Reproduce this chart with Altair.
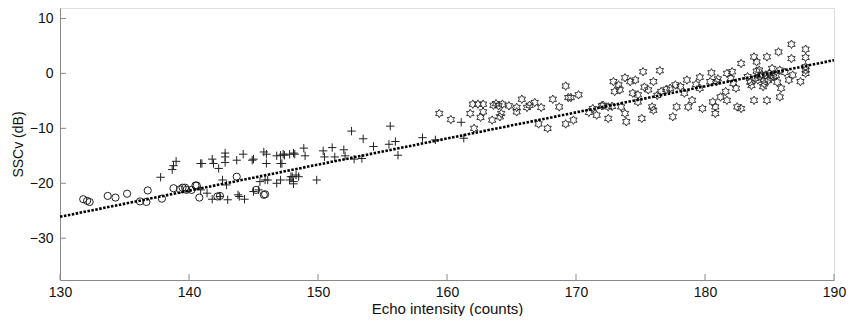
import altair as alt
import pandas as pd

# Circles (low echo intensity)
circ_x = [131.8, 132.1, 132.3, 133.7, 134.3, 135.2, 136.2, 136.8, 136.7, 137.9, 138.8, 139.3,
          139.5, 139.7, 139.8, 140.2, 140.5, 140.6, 140.8, 142.4, 142.2, 143.7, 145.2, 145.8, 145.9]
circ_y = [-22.9, -23.2, -23.4, -22.3, -22.6, -21.9, -23.3, -21.3, -23.4, -22.8, -20.9, -21.1,
          -20.8, -20.8, -21.2, -21.2, -20.4, -20.4, -22.6, -22.3, -22.4, -18.8, -21.2, -22.1, -22.0]

# Plus markers (middle range)
plus_x = [137.8, 138.7, 138.8, 139.0, 140.9, 141.0, 141.8, 141.9, 142.3, 142.8, 142.8, 142.8,
          143.7, 144.2, 144.9, 145.0, 145.8, 146.0, 146.0, 146.8, 147.1, 147.3, 148.1, 147.1,
          147.2, 148.0, 148.1, 142.6, 142.9, 143.0, 142.4, 141.8, 141.4, 140.9, 143.8, 143.9,
          144.3, 145.0, 145.4, 145.5, 145.9, 146.1, 146.8, 147.1, 147.9, 148.3,
          147.4, 147.8, 148.2, 148.9, 149.0, 147.8, 148.1, 148.5, 149.9, 150.4, 150.5, 151.1,
          151.3, 152.0, 152.1, 152.6, 152.8, 153.5, 153.4, 154.3, 155.5, 155.6, 156.0, 156.2,
          158.1, 159.1, 161.1, 161.3]
plus_y = [-18.9, -17.5, -16.8, -16.0, -16.4, -16.4, -15.6, -16.4, -17.3, -14.5, -15.2, -16.2,
          -15.8, -14.7, -15.8, -15.6, -14.3, -14.7, -16.4, -15.0, -14.9, -14.7, -14.5, -16.4,
          -16.4, -18.8, -19.7, -19.4, -20.3, -23.0, -22.4, -22.9, -21.8, -21.2, -22.1, -22.4,
          -22.9, -21.5, -21.2, -19.7, -19.4, -19.4, -20.0, -19.4, -18.8, -18.5,
          -14.9, -14.7, -14.7, -13.6, -15.0, -19.4, -20.1, -18.8, -19.4, -14.1, -15.2, -13.5,
          -15.2, -13.9, -15.0, -10.5, -15.6, -11.9, -15.5, -13.3, -12.9, -9.6, -12.4, -14.9,
          -11.7, -12.1, -8.9, -11.8]

# Six-pointed stars (high echo intensity)
star_x = [159.4, 160.3, 161.8, 162.1, 162.0, 162.4, 162.8, 162.6, 162.8, 163.5, 163.6, 163.8,
          164.0, 164.1, 164.2, 164.3, 164.8, 165.4, 165.4, 165.8, 166.2, 166.4, 166.8, 167.3,
          167.1, 167.8, 168.2, 168.7, 169.2, 169.2, 169.4, 169.6, 169.8, 170.2,
          171.0, 171.6, 172.0, 172.1, 172.5, 172.5, 172.9, 173.0, 173.3, 173.4, 173.5, 173.8,
          173.8, 173.9, 174.2, 174.6, 174.8, 174.8, 175.1, 175.2, 175.3, 175.6, 175.9, 176.0,
          176.0, 176.5, 176.6, 177.3, 177.5, 177.7, 177.8, 178.4, 178.6, 178.7, 179.0, 179.6,
          179.6, 179.8, 180.4, 180.5, 180.6, 180.8, 180.8, 180.9, 181.2, 181.6, 181.7, 181.7,
          182.0, 182.1, 182.2, 182.4, 182.5, 182.8, 182.8, 183.3, 183.8, 183.8, 184.0, 184.1,
          184.2, 184.3, 184.5, 184.7, 184.8, 184.8, 185.0, 185.3, 185.7, 185.8, 185.8, 185.9,
          186.5, 186.7, 186.7, 186.8, 187.4, 187.8, 187.8, 187.8,
          171.3, 172.8, 174.4, 176.3, 177.0, 178.1, 179.3, 181.0, 183.5, 183.9, 184.4, 184.6,
          184.9, 185.1, 185.5, 183.6, 184.0, 185.2, 187.8, 187.8, 186.2, 185.6]
star_y = [-7.3, -8.4, -7.3, -10.0, -5.6, -5.6, -5.6, -8.0, -7.0, -8.5, -5.8, -5.5,
          -5.9, -7.9, -7.3, -5.6, -5.9, -6.2, -7.0, -4.7, -6.2, -5.8, -5.3, -6.2,
          -9.2, -10.0, -4.7, -6.1, -2.3, -9.2, -4.4, -4.4, -8.5, -3.9,
          -7.1, -7.6, -5.9, -5.8, -8.2, -6.1, -1.5, -3.3, -2.1, -3.0, -6.1, -0.8,
          -7.3, -8.8, -1.5, -1.2, -3.9, -5.2, -8.2, 0.3, -2.5, -3.0, -6.1, -1.5,
          -6.7, 0.5, -3.3, -2.7, -7.9, -2.1, -6.1, -3.6, -1.2, -6.1, -4.9, -0.7,
          -2.7, -6.4, -1.5, 0.1, -5.2, -6.1, -7.3, -1.5, -4.3, -3.3, 0.0, -4.9,
          -0.9, 0.3, -1.8, -2.7, -6.1, 1.8, -6.4, -0.6, 3.0, -4.9, 2.1, -1.2,
          0.6, -0.6, -2.4, -0.3, 3.0, -4.9, 0.0, -0.6, 3.9, 0.6, -4.3, -2.7,
          -1.2, 5.3, 2.7, -0.3, -1.5, 4.4, 2.9, 0.6,
          -6.4, -6.0, -3.6, -4.0, -2.9, -2.4, -2.0, -1.0, -1.6, -0.9, -0.2, -1.9,
          -1.3, -0.8, -0.4, -2.2, 0.4, 0.9, 1.2, 0.0, 0.2, -1.6]

# Fitted regression line end points
fit_x = [130, 190]
fit_y = [-26.1, 2.4]

x_ticks = [130, 140, 150, 160, 170, 180, 190]
y_ticks = [10, 0, -10, -20, -30]

W, H = 774, 272
XD = [130, 190]
YD = [-37.6, 11.9]

circ = pd.DataFrame({"x": circ_x, "y": circ_y})
plus = pd.DataFrame({"x": plus_x, "y": plus_y})
star = pd.DataFrame({"x": star_x, "y": star_y})
fit = pd.DataFrame({"x": fit_x, "y": fit_y})
xt = pd.DataFrame({"x": x_ticks})
yt = pd.DataFrame({"y": y_ticks})

FONT = "Liberation Sans"
xs = alt.Scale(domain=XD, nice=False, zero=False)
ys = alt.Scale(domain=YD, nice=False, zero=False)

xaxis = alt.Axis(values=x_ticks, title="Echo intensity (counts)", grid=False, tickSize=0,
                 labelFlush=False, labelPadding=5, titlePadding=2, domainColor="#8a8a8a",
                 labelFont=FONT, titleFont=FONT, labelFontSize=14, titleFontSize=15,
                 titleFontWeight="normal", labelColor="#111", titleColor="#111")
yaxis = alt.Axis(values=y_ticks, title="SSCv (dB)", grid=False, tickSize=0,
                 labelFlush=False, labelPadding=7, titlePadding=4, domainColor="#8a8a8a",
                 labelFont=FONT, titleFont=FONT, labelFontSize=14, titleFontSize=14,
                 titleFontWeight="normal", labelColor="#111", titleColor="#111")

base_axes = alt.Chart(fit).mark_point(opacity=0).encode(
    x=alt.X("x:Q", scale=xs, axis=xaxis),
    y=alt.Y("y:Q", scale=ys, axis=yaxis),
)

xtick = alt.Chart(xt).mark_rule(color="#8a8a8a", strokeWidth=1).encode(
    x=alt.X("x:Q", scale=xs), y=alt.value(H), y2=alt.value(H - 6))
ytick = alt.Chart(yt).mark_rule(color="#8a8a8a", strokeWidth=1).encode(
    y=alt.Y("y:Q", scale=ys), x=alt.value(0), x2=alt.value(6))

STAR = ("M0,-1L0.289,-0.5L0.866,-0.5L0.577,0L0.866,0.5L0.289,0.5L0,1L-0.289,0.5"
        "L-0.866,0.5L-0.577,0L-0.866,-0.5L-0.289,-0.5Z")
PLUS = "M-1,0L1,0M0,-1L0,1"

c_layer = alt.Chart(circ).mark_point(shape="circle", filled=False, size=52, color="#222",
                                     strokeWidth=1.0, opacity=1).encode(
    x=alt.X("x:Q", scale=xs), y=alt.Y("y:Q", scale=ys))
p_layer = alt.Chart(plus).mark_point(shape=PLUS, filled=False, size=70, color="#222",
                                     strokeWidth=1.0, opacity=1).encode(
    x=alt.X("x:Q", scale=xs), y=alt.Y("y:Q", scale=ys))
s_layer = alt.Chart(star).mark_point(shape=STAR, filled=False, size=72, color="#222",
                                     strokeWidth=0.9, opacity=1).encode(
    x=alt.X("x:Q", scale=xs), y=alt.Y("y:Q", scale=ys))

line = alt.Chart(fit).mark_line(color="black", strokeWidth=2.6, strokeDash=[2.5, 1.5]).encode(
    x=alt.X("x:Q", scale=xs), y=alt.Y("y:Q", scale=ys))

chart = alt.layer(base_axes, xtick, ytick, c_layer, p_layer, s_layer, line).properties(
    width=W, height=H,
    autosize=alt.AutoSizeParams(type="none"),
    padding={"left": 52, "top": 0, "right": 15, "bottom": 36},
).configure_view(stroke=None).configure(background="white")

chart.save("out.html", embed_options={"renderer": "svg", "actions": False})
